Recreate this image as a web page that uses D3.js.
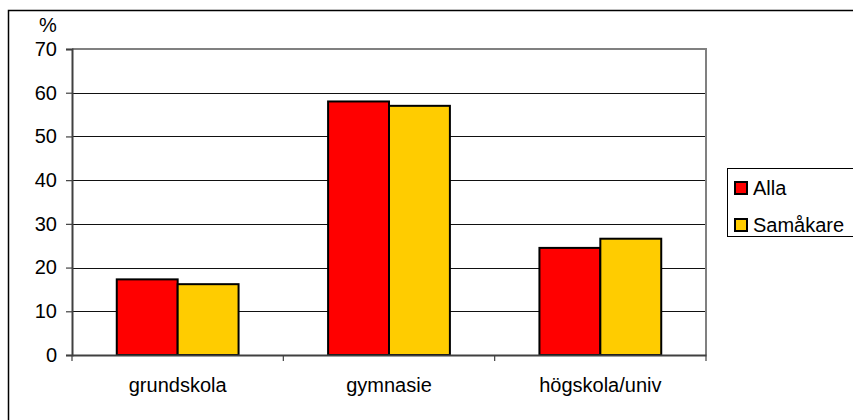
<!DOCTYPE html>
<html>
<head>
<meta charset="utf-8">
<script src="https://cdn.jsdelivr.net/npm/d3@7"></script>
<style>
  html, body { margin: 0; padding: 0; background: #fff; }
  svg { display: block; font-family: "Liberation Sans", Arial, sans-serif; }
</style>
</head>
<body>
<svg id="chart" width="853" height="420"></svg>
<script>
// Education level shares (%)
const categories = ["grundskola", "gymnasie", "högskola/univ"];
const seriesNames = ["Alla", "Samåkare"];
const alla = [17.3, 58, 24.5];
const samakare = [16.2, 57, 26.6];
const yTicks = [0, 10, 20, 30, 40, 50, 60, 70];
const colors = ["#ff0000", "#ffcc00"];

const FS = 20;
const svg = d3.select("#chart");
const plot = { left: 72, right: 706, top: 49, bottom: 355 };

// outer frame
svg.append("rect")
  .attr("x", 8.5).attr("y", 10.5)
  .attr("width", 860).attr("height", 420)
  .attr("fill", "none").attr("stroke", "#000").attr("stroke-width", 1.5);

const x0 = d3.scaleBand().domain(categories).range([plot.left, plot.right]).paddingInner(0).paddingOuter(0);
const x1 = d3.scaleBand().domain(seriesNames).range([0, x0.bandwidth()]).paddingInner(0).paddingOuter(0.735);
const y = d3.scaleLinear().domain([0, 70]).range([plot.bottom, plot.top]);

// horizontal gridlines
svg.append("g").selectAll("line").data(yTicks.filter(t => t > 0 && t < 70)).join("line")
  .attr("x1", plot.left).attr("x2", plot.right)
  .attr("y1", d => Math.round(y(d)) + 0.5).attr("y2", d => Math.round(y(d)) + 0.5)
  .attr("stroke", "#111").attr("stroke-width", 1);

// plot area border (top and right)
svg.append("path")
  .attr("d", `M${plot.left},${plot.top} H${plot.right} V${plot.bottom}`)
  .attr("fill", "none").attr("stroke", "#808080").attr("stroke-width", 2);

// bars
const data = categories.map((c, i) => ({ cat: c, values: [alla[i], samakare[i]] }));
svg.append("g").selectAll("g").data(data).join("g")
  .attr("transform", d => `translate(${x0(d.cat)},0)`)
  .selectAll("rect").data(d => d.values.map((v, j) => ({ name: seriesNames[j], v, j })))
  .join("rect")
  .attr("x", d => x1(d.name))
  .attr("y", d => y(d.v))
  .attr("width", x1.bandwidth())
  .attr("height", d => y(0) - y(d.v))
  .attr("fill", d => colors[d.j])
  .attr("stroke", "#000").attr("stroke-width", 2);

// y axis
const yAxis = svg.append("g").attr("transform", `translate(${plot.left},0)`)
  .call(d3.axisLeft(y).tickValues(yTicks).tickSize(6).tickPadding(9));
yAxis.select(".domain").attr("stroke", "#404040").attr("stroke-width", 2);
yAxis.selectAll(".tick line").attr("stroke", "#404040").attr("stroke-width", 1.2);
yAxis.selectAll(".tick text").attr("font-size", FS).attr("fill", "#000")
  .attr("font-family", "Liberation Sans, Arial, sans-serif");

// x axis
const xAxis = svg.append("g").attr("transform", `translate(0,${plot.bottom})`)
  .call(d3.axisBottom(x0).tickSize(0).tickPadding(23));
xAxis.select(".domain").attr("stroke", "#404040").attr("stroke-width", 2);
xAxis.selectAll(".tick text").attr("font-size", FS).attr("fill", "#000")
  .attr("font-family", "Liberation Sans, Arial, sans-serif");
// category separator ticks
const seps = [plot.left].concat(categories.map(c => x0(c) + x0.bandwidth()));
svg.append("g").selectAll("line").data(seps).join("line")
  .attr("x1", d => d).attr("x2", d => d)
  .attr("y1", plot.bottom).attr("y2", plot.bottom + 6)
  .attr("stroke", "#404040").attr("stroke-width", 1.2);

// unit label
svg.append("text").attr("x", 48).attr("y", 32).attr("text-anchor", "middle")
  .attr("font-size", FS).text("%");

// legend
const lg = svg.append("g");
lg.append("rect").attr("x", 727.5).attr("y", 168.5).attr("width", 140).attr("height", 68)
  .attr("fill", "#fff").attr("stroke", "#000").attr("stroke-width", 1);
seriesNames.forEach((n, i) => {
  const cy = 188 + i * 37;
  lg.append("rect").attr("x", 735).attr("y", cy - 6).attr("width", 12).attr("height", 12)
    .attr("fill", colors[i]).attr("stroke", "#000").attr("stroke-width", 2);
  lg.append("text").attr("x", 753).attr("y", cy + 7).attr("font-size", FS).text(n);
});
</script>
</body>
</html>
